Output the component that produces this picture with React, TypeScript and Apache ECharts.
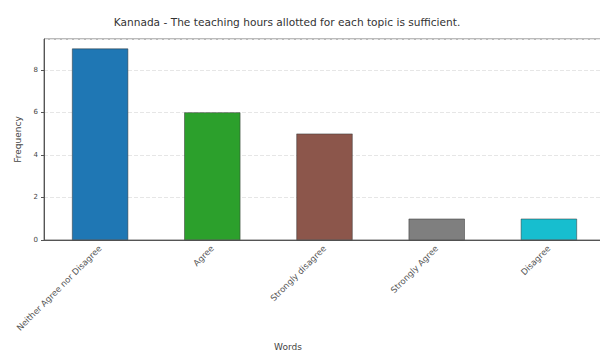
import React, { useEffect, useRef } from "react";
import * as echarts from "echarts";

const categories = ["Neither Agree nor Disagree", "Agree", "Strongly disagree", "Strongly Agree", "Disagree"];
const frequencies = [9, 6, 5, 1, 1];
const barColors = ["#1f77b4", "#2ca02c", "#8c564b", "#7f7f7f", "#17becf"];
const yTicks = [0, 2, 4, 6, 8];

export default function App() {
  const ref = useRef<HTMLDivElement>(null);
  useEffect(() => {
    if (!ref.current) return;
    const chart = echarts.init(ref.current, null, { renderer: "svg" });
    const font = "DejaVu Sans";
    chart.setOption({
      animation: false,
      backgroundColor: "#ffffff",
      title: [
        {
          text: "Kannada - The teaching hours allotted for each topic is sufficient.",
          left: 282,
          top: 11,
          textAlign: "center",
          textStyle: { fontFamily: font, fontSize: 10.6, fontWeight: "normal", color: "#333" },
        },
        {
          text: "Words",
          left: 283,
          top: 337,
          textAlign: "center",
          textStyle: { fontFamily: font, fontSize: 9, fontWeight: "normal", color: "#444" },
        },
      ],
      grid: {
        left: 44,
        top: 39,
        width: 561,
        bottom: 114,
        outerBoundsMode: "none",
        containLabel: false,
        show: true,
        borderColor: "#777",
        borderWidth: 1,
        backgroundColor: "transparent",
      },
      xAxis: {
        type: "category",
        data: categories,
        axisLine: { lineStyle: { color: "#555" } },
        axisTick: { alignWithLabel: true, length: 3, lineStyle: { color: "#555" } },
        axisLabel: { rotate: 45, fontFamily: font, fontSize: 8.5, color: "#555", interval: 0, margin: 7 },
      },
      yAxis: {
        type: "value",
        min: 0,
        max: 9.45,
        interval: 2,
        name: "Frequency",
        nameLocation: "middle",
        nameGap: 20,
        nameTextStyle: { fontFamily: font, fontSize: 9, color: "#444" },
        axisLine: { show: true, lineStyle: { color: "#555" } },
        axisTick: { show: true, length: 3, lineStyle: { color: "#555" } },
        axisLabel: {
          fontFamily: font,
          fontSize: 7,
          color: "#444",
          margin: 6,
          showMaxLabel: false,
          formatter: (v: number) => (yTicks.includes(v) ? String(v) : ""),
        },
        splitLine: { show: true, lineStyle: { color: "#e6e6e6", type: "dashed", width: 1 } },
      },
      series: [
        {
          type: "bar",
          barWidth: "50%",
          data: frequencies.map((v, i) => ({ value: v, itemStyle: { color: barColors[i] } })),
          itemStyle: { borderColor: "#333", borderWidth: 0.5 },
        },
      ],
    });
    return () => chart.dispose();
  }, []);
  return <div ref={ref} style={{ width: 600, height: 354, position: "absolute", left: 0, top: 0 }} />;
}
